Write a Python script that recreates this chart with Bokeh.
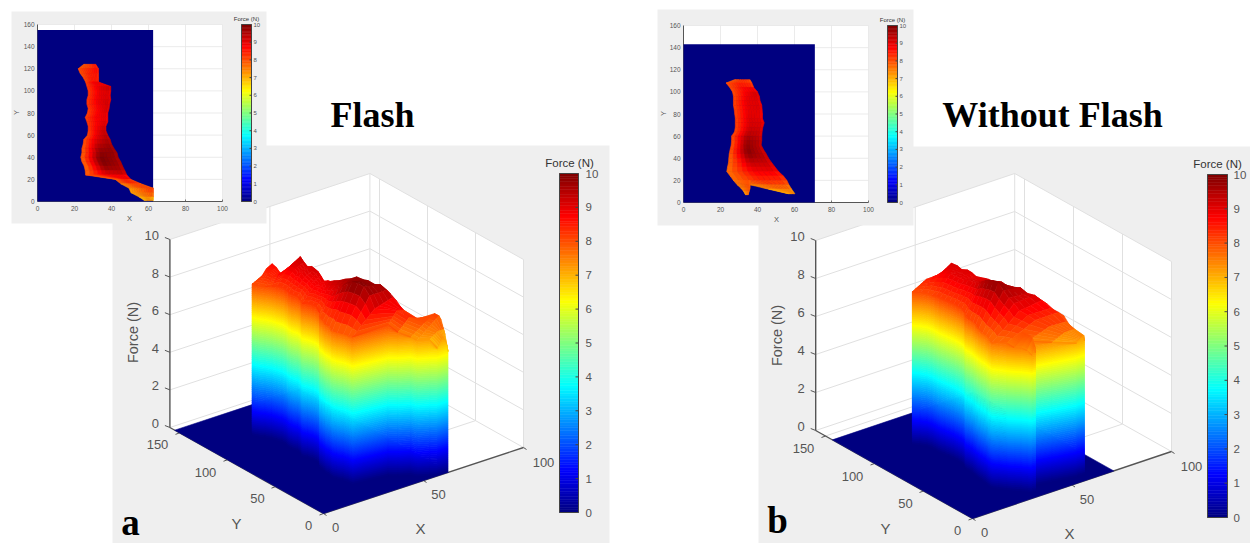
from bokeh.plotting import figure
from bokeh.models import ColumnDataSource
from bokeh.core.properties import value
from bokeh.embed import file_html
from bokeh.resources import INLINE
import numpy as np

# ---- data: foot outline rows and force (N) per row
Y_A = [124,120,116,112,108,104,100,96,92,88,84,80,76,72,68,64,60,56,52,48,44,40,36,32,28,24,20,16,12,8,4,1]
XL_A = [25,22,23,24.7,26,26.7,27.4,27.4,26.7,26.7,27.4,27,25.8,26.7,27.4,27.4,27,25,24.7,24,24,23.4,24,25.2,25.8,26,42,45,49.5,50.5,55,57.7]
XR_A = [31.5,33,33,33,33,39.6,39.6,39.3,39.6,39,38.7,38,38,38,37,37,38,39.3,40,41.4,43,43.6,45,46,47.2,48.3,50.5,56,62.7,62.7,62.7,62.7]
F_LEFT_A = [7.8,8,8,8,8.1,8.2,8.2,8.2,8.2,8.2,8.2,8.1,8.1,8.2,8.2,8.2,8,8,7.9,7.8,7.8,7.7,7.7,7.7,7.7,7.8,8,7.6,7.3,7.2,7.2,6.7]
F_MID_A = [8,8.3,8.5,8.4,8.6,9,9,8.9,9,8.9,8.8,8.8,8.8,8.8,8.8,8.9,9,9.1,9.3,9.6,9.8,10,10,9.9,9.5,8.9,8.6,8.2,7.8,7.7,7.5,7.2]
F_TOP_A = [8.4,8.75,8.66,8.46,8.57,9.36,9.15,9.06,9.17,9.2,9.17,9.1,8.9,9.04,9.15,9.3,9.4,9.56,9.66,9.83,9.73,9.77,9.63,9.7,9.5,9.2,8.5,7.95,8.15,8.16,7.5,6.7]

Y_B = [111,108,104,100,96,92,88,84,80,76,72,68,64,60,56,52,48,44,40,36,32,28,24,20,16,12,8]
XL_B = [27.5,23,25,26.5,27,27,27,27.4,27.7,28,28,28,27.6,26,26,25.8,25.2,24.7,24.5,24.3,23.8,23.4,25.2,27,36,46,56.5]
XR_B = [36,37,38,40,41,41.4,42.3,42.5,42.7,42.7,43.6,42.9,42.5,42.3,42.3,42,43.2,44.7,46,47.7,49.5,51.4,54,55.9,57,58.5,60.2]
F_LEFT_B = [7.8,8,8,8,8,8.1,8.1,8.1,8.1,8.1,8.1,8.1,8,8,7.9,7.9,7.9,7.8,7.7,7.7,7.7,7.6,7.7,7.7,7.6,7.3,7]
F_MID_B = [8.2,8.4,8.6,8.8,8.9,9,9,9,9,9.1,9.1,9.2,9.3,9.5,9.7,9.8,9.9,9.9,9.6,9.3,9.1,8.8,8.6,8.4,8,7.6,7.2]
F_TOP_B = [8.1,8.2,8.6,9.2,9.14,9.03,9.1,9.07,8.97,9.03,9.06,9.16,9.22,9.3,9.4,9.5,9.35,9.36,9.43,9.2,9.17,8.96,8.56,8.4,7.95,7.6,7.3]

# the separate heel spur of trial b
Y_C = [20,16,13,10,7]
XL_C = [27,29,31,32.5,33.5]
XR_C = [36,36,36,35.5,35]
F_LEFT_C = [7.7,7.5,7.5,7.4,7.2]
F_MID_C = [7.9,7.8,7.8,7.7,7.5]
F_TOP_C = [8,8,8,7.9,7.6]

FLOOR_A = (62.5, 155)
FLOOR_B = (71, 143)
CB_TICKS = list(range(0, 11))
Z_TICKS = [0, 2, 4, 6, 8, 10]
XY3D_X = [0, 50, 100]
XY3D_Y = [0, 50, 100, 150]
IN_X = [0, 20, 40, 60, 80, 100]
IN_Y = [0, 20, 40, 60, 80, 100, 120, 140, 160]
TITLE_A, TITLE_B = "Flash", "Without Flash"

SERIF, SANS = "Liberation Serif", "Liberation Sans"
INK = "#555555"
GRID = "#e0e0e0"
PANEL = "#efefef"

p = figure(width=1250, height=543, x_range=(0, 1250), y_range=(543, 0),
           output_backend="svg", toolbar_location=None, min_border=0)
p.xaxis.visible = False
p.yaxis.visible = False
p.xgrid.visible = False
p.ygrid.visible = False
p.outline_line_color = None


def jet(v):
    t = min(max(v / 10.0, 0), 1)
    c = [min(4*t-1.5, -4*t+4.5), min(4*t-0.5, -4*t+3.5), min(4*t+0.5, -4*t+2.5)]
    r, g, b = [int(round(255*min(max(k, 0), 1))) for k in c]
    return f"#{r:02x}{g:02x}{b:02x}"


def txt(x, y, s, size, color=INK, align="center", font=SANS, style="normal", angle=0):
    p.text([x], [y], text=[s], text_font=value(font), text_font_size=f"{size}px",
           text_color=color, text_align=align, text_baseline="middle",
           text_font_style=style, angle=angle)


def polys(xs, ys, colors, lw=0.6):
    src = ColumnDataSource(dict(xs=xs, ys=ys, c=colors))
    p.patches("xs", "ys", source=src, fill_color="c", line_color="c", line_width=lw)


def rect(x0, y0, x1, y1, color):
    p.quad(left=[x0], right=[x1], top=[y0], bottom=[y1], fill_color=color, line_color=None)


def seg(x0, y0, x1, y1, color=GRID, w=1.0):
    p.segment([x0], [y0], [x1], [y1], line_color=color, line_width=w)


TS = np.linspace(0, 1, 11)


def mesh(rows):
    Y, XL, XR, FL, FM, FT = [np.array(a, float) for a in rows]
    X = np.array([XL + t*(XR-XL) for t in TS]).T
    Z = np.array([np.interp(TS, [0, 0.5, 0.92, 1], [a, b, c, c-0.3]) for a, b, c in zip(FL, FM, FT)])
    return Y, X, Z


def draw_top(rows, proj):
    Y, X, Z = mesh(rows)
    xs, ys, cs = [], [], []
    for i in range(len(Y)-1):
        for j in range(len(TS)-2, -1, -1):
            pts = [(X[i, j], Y[i]), (X[i, j+1], Y[i]), (X[i+1, j+1], Y[i+1]), (X[i+1, j], Y[i+1])]
            zs = [Z[i, j], Z[i, j+1], Z[i+1, j+1], Z[i+1, j]]
            q = [proj(a, b, z) for (a, b), z in zip(pts, zs)]
            xs.append([k[0] for k in q])
            ys.append([k[1] for k in q])
            cs.append(jet(sum(zs)/4))
    polys(xs, ys, cs)


def draw_wall(rows, proj):
    Y, X, Z = mesh(rows)
    pts = [(X[i, 0], Y[i], Z[i, 0]) for i in range(len(Y))]
    pts += [(X[-1, j], Y[-1], Z[-1, j]) for j in range(1, len(TS))]
    xs, ys, cs = [], [], []
    dz = 0.1
    for (a, b, c), (d, e, f) in zip(pts[:-1], pts[1:]):
        k = 0.0
        while k < max(c, f):
            lo, hi = k, k+dz
            q = [proj(a, b, min(lo, c)), proj(d, e, min(lo, f)), proj(d, e, min(hi, f)), proj(a, b, min(hi, c))]
            xs.append([w[0] for w in q])
            ys.append([w[1] for w in q])
            cs.append(jet((lo+hi)/2))
            k += dz
    polys(xs, ys, cs, 0.8)


def colorbar(x0, x1, ytop, ybot, lab_x, size, title_xy, title_size, tick):
    n = 128
    lv = np.linspace(0, 10, n+1)
    h = (ybot-ytop)/10.0
    p.quad(left=[x0]*n, right=[x1]*n, top=list(ybot-lv[1:]*h), bottom=list(ybot-lv[:-1]*h),
           fill_color=[jet((a+b)/2) for a, b in zip(lv[:-1], lv[1:])],
           line_color=[jet((a+b)/2) for a, b in zip(lv[:-1], lv[1:])], line_width=0.5)
    p.quad(left=[x0], right=[x1], top=[ytop], bottom=[ybot], fill_color=None, line_color="#444444", line_width=1)
    for v in CB_TICKS:
        yy = ybot-v*h
        if 0 < v < 10:
            seg(x1-tick, yy, x1, yy, "#444444", 1)
        txt(lab_x, yy, str(v), size, align="left")
    txt(title_xy[0], title_xy[1], "Force (N)", title_size, color="#333333")


def panel3d(bx0, bx1, by0, by1, O, ex, ey, sz, floor, surfaces, cb, lab, zlab_xy):
    rect(bx0, by0, bx1, by1, PANEL)
    P = lambda x, y, z: (O[0]+ex[0]*x+ey[0]*y, O[1]+ex[1]*x+ey[1]*y-sz*z)
    c = [P(0, 160, 10), P(100, 160, 10), P(100, 0, 10), P(100, 0, 0), P(0, 0, 0), P(0, 160, 0)]
    p.patch([k[0] for k in c], [k[1] for k in c], fill_color="white", line_color=None)
    # grid
    for z in Z_TICKS[1:]:
        a, b, d = P(0, 160, z), P(100, 160, z), P(100, 0, z)
        seg(a[0], a[1], b[0], b[1]); seg(b[0], b[1], d[0], d[1])
    a, b = P(100, 160, 0), P(100, 160, 10); seg(a[0], a[1], b[0], b[1])
    a, b = P(100, 0, 0), P(100, 0, 10); seg(a[0], a[1], b[0], b[1])
    for x in XY3D_X[1:-1]:
        a, b, d = P(x, 160, 10), P(x, 160, 0), P(x, 0, 0)
        seg(a[0], a[1], b[0], b[1]); seg(b[0], b[1], d[0], d[1])
    for y in XY3D_Y[1:]:
        a, b, d = P(100, y, 10), P(100, y, 0), P(0, y, 0)
        seg(a[0], a[1], b[0], b[1]); seg(b[0], b[1], d[0], d[1])
    a, b = P(100, 160, 0), P(0, 160, 0); seg(a[0], a[1], b[0], b[1])
    a, b = P(100, 160, 0), P(100, 0, 0); seg(a[0], a[1], b[0], b[1])
    # axes
    a, b = P(0, 160, 0), P(0, 160, 10); seg(a[0], a[1], b[0], b[1], INK, 1.4)
    a, b = P(0, 160, 0), P(0, 0, 0); seg(a[0], a[1], b[0], b[1], INK, 1.4)
    a, b = P(0, 0, 0), P(100, 0, 0); seg(a[0], a[1], b[0], b[1], INK, 1.4)
    for z in Z_TICKS:
        a = P(0, 160, z)
        seg(a[0], a[1], a[0]-5, a[1]-2, INK, 1)
        txt(a[0]-11, a[1]-4, str(z), 13, align="right")
    for y, off in zip(XY3D_Y, [(-15, 12), (-18, 12), (-22, 13), (-22, 12)]):
        a = P(0, y, 0)
        seg(a[0], a[1], a[0]-4, a[1]+1.5, INK, 1)
        txt(a[0]+off[0], a[1]+off[1], str(y), 13)
    for x, off in zip(XY3D_X, [(12, 14), (15, 14), (20, 15)]):
        a = P(x, 0, 0)
        seg(a[0], a[1], a[0]+3, a[1]+2, INK, 1)
        txt(a[0]+off[0], a[1]+off[1], str(x), 13)
    # floor and surface
    fx, fy = floor
    f = [P(0, 0, 0), P(fx, 0, 0), P(fx, fy, 0), P(0, fy, 0)]
    p.patch([k[0] for k in f], [k[1] for k in f], fill_color=jet(0), line_color=jet(0), line_width=0.6)
    for rows in surfaces:
        draw_top(rows, P)
        draw_wall(rows, P)
    txt(lab[0], lab[1], "Force (N)", 14.5, angle=np.pi/2)
    a = P(0, 0, 0)
    txt(a[0]-87, a[1]+10, "Y", 15)
    txt(a[0]+97, a[1]+15, "X", 15)
    colorbar(*cb)
    txt(zlab_xy[0], zlab_xy[1], zlab_xy[2], 37, color="black", font=SERIF, style="bold")


def inset(bx0, bx1, by0, by1, xl, xr, yt, yb, floor, surfaces, cb, xlab, ylab):
    rect(bx0, by0, bx1, by1, PANEL)
    rect(xl, yt, xr, yb, "white")
    sx = (xr-xl)/100.0
    sy = (yb-yt)/160.0
    P = lambda x, y, z=0: (xl+sx*x, yb-sy*y)
    for x in IN_X[1:]:
        seg(P(x, 0)[0], yt, P(x, 0)[0], yb, "#e6e6e6", 0.8)
        seg(P(x, 0)[0], yb, P(x, 0)[0], yb-2, INK, 0.8)
    for y in IN_Y[1:]:
        seg(xl, P(0, y)[1], xr, P(0, y)[1], "#e6e6e6", 0.8)
    seg(xl, yt, xl, yb, INK, 1)
    seg(xl, yb, xr, yb, INK, 1)
    for x in IN_X:
        txt(P(x, 0)[0], yb+7, str(x), 6.5)
    for y in IN_Y:
        txt(xl-3, P(0, y)[1], str(y), 6.5, align="right")
    a, b = P(0, 0), P(*floor)
    rect(a[0], b[1], b[0], a[1], jet(0))
    for rows in surfaces:
        draw_top(rows, P)
    txt(xlab[0], xlab[1], "X", 7.5)
    txt(ylab[0], ylab[1], "Y", 7.5, angle=np.pi/2)
    colorbar(*cb)


ROWS_A = (Y_A, XL_A, XR_A, F_LEFT_A, F_MID_A, F_TOP_A)
ROWS_B = (Y_B, XL_B, XR_B, F_LEFT_B, F_MID_B, F_TOP_B)
ROWS_C = (Y_C, XL_C, XR_C, F_LEFT_C, F_MID_C, F_TOP_C)

panel3d(112, 609, 145, 543, (323, 513), (2.0, -0.66), (-0.96, -0.5375), 18.8, FLOOR_A, [ROWS_A],
        (559, 578, 173, 512, 585, 11.5, (569, 162), 11.5, 3), (132, 332), (130, 522, "a"))
panel3d(758, 1250, 146, 543, (972, 518), (1.99, -0.67), (-0.98, -0.55), 19.0, FLOOR_B, [ROWS_B, ROWS_C],
        (1207, 1227, 174, 517, 1233, 11.5, (1217, 163), 11.5, 3), (776, 335), (777, 520, "b"))

inset(11, 266, 11, 223, 37, 222, 24, 201, FLOOR_A, [ROWS_A],
      (241, 251, 24, 201, 253, 6, (246, 18), 6, 2), (129, 218), (16, 112))
inset(657, 913, 9, 225, 683, 868, 25, 202, FLOOR_B, [ROWS_B, ROWS_C],
      (887, 897, 25, 202, 899, 6, (892, 19), 6, 2), (776, 219), (663, 113))

txt(372, 114, TITLE_A, 36, color="black", font=SERIF, style="bold")
txt(1052, 114, TITLE_B, 36, color="black", font=SERIF, style="bold")

open("out.html", "w").write(file_html(p, INLINE))
